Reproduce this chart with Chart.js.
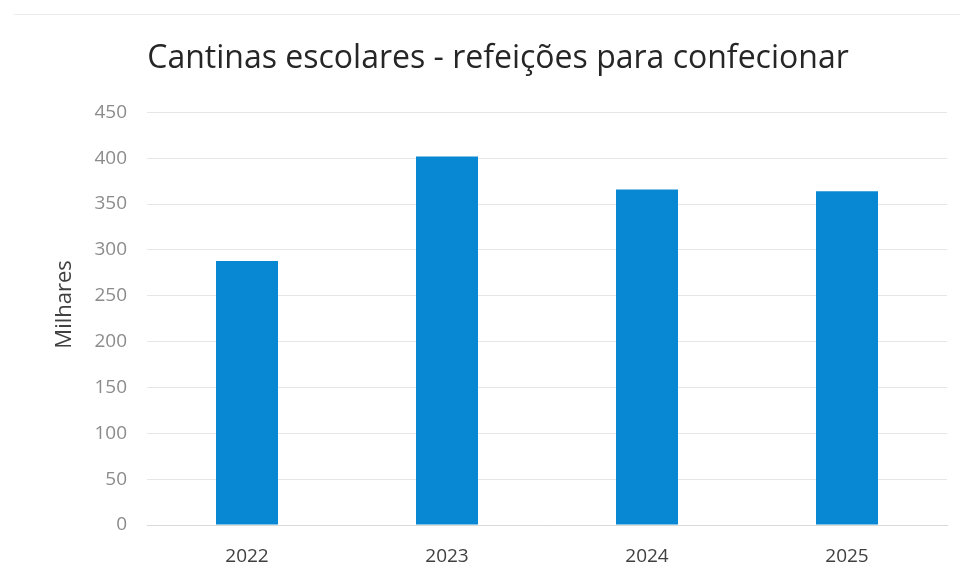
<!DOCTYPE html>
<html>
<head>
<meta charset="utf-8">
<script src="https://cdn.jsdelivr.net/npm/chart.js@4"></script>
<style>
  html, body { margin: 0; padding: 0; background: #fff; }
  #wrap { position: relative; width: 960px; height: 581px; }
  #topline { position: absolute; left: 14px; right: 0; top: 14px; border-top: 1px solid #ececec; }
</style>
</head>
<body>
<div id="wrap">
  <div id="topline"></div>
  <canvas id="mealsChart" width="960" height="581"></canvas>
</div>
<script>
const years = ['2022', '2023', '2024', '2025'];
const meals = [288, 402, 366, 364];   // milhares
const yTicks = [0, 50, 100, 150, 200, 250, 300, 350, 400, 450];

document.addEventListener("DOMContentLoaded", function () {
    const ctx = document.getElementById('mealsChart').getContext('2d');
    new Chart(ctx, {
        type: 'bar',
        data: {
            labels: years,
            datasets: [{
                label: 'Refeições',
                data: meals,
                backgroundColor: '#0888D2',
                borderWidth: 0,
                barPercentage: 0.31,
                categoryPercentage: 1
            }]
        },
        options: {
            responsive: false,
            animation: false,
            layout: { padding: { left: 49, right: 13, top: 0, bottom: 0 } },
            plugins: {
                legend: { display: false },
                tooltip: { enabled: false },
                title: {
                    display: true,
                    text: 'Cantinas escolares - refeições para confecionar',
                    color: '#262626',
                    font: { family: 'Open Sans', size: 32, weight: 'normal' },
                    padding: { top: 40, bottom: 34 }
                }
            },
            scales: {
                x: {
                    grid: { display: false, drawTicks: false },
                    border: { display: true, color: '#d9d9d9', width: 1 },
                    ticks: {
                        color: '#404040',
                        font: { family: 'Open Sans', size: 19 },
                        padding: 20
                    },
                    afterFit: function (scale) { scale.height = 56; }
                },
                y: {
                    min: 0,
                    max: 450,
                    afterBuildTicks: function (scale) {
                        scale.ticks = yTicks.map(v => ({ value: v }));
                    },
                    grid: { color: '#e6e6e6', drawTicks: false },
                    border: { display: false },
                    ticks: {
                        color: '#8c8c8c',
                        font: { family: 'Open Sans', size: 19 },
                        padding: 20
                    },
                    title: {
                        display: true,
                        text: '     Milhares',
                        color: '#404040',
                        font: { family: 'Open Sans', size: 22 },
                        padding: { top: 3, bottom: 0 }
                    },
                    afterFit: function (scale) { scale.width = 98; }
                }
            }
        }
    });
});
</script>
</body>
</html>
